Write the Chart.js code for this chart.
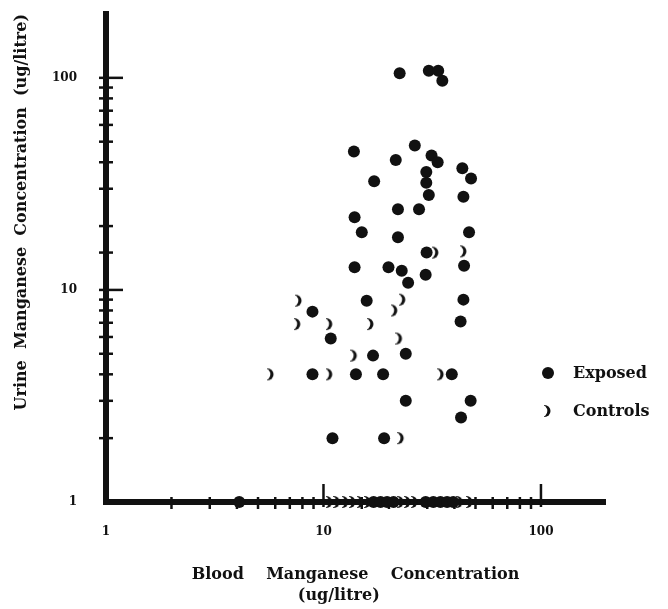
<!DOCTYPE html>
<html>
<head>
<meta charset="utf-8">
<script src="https://cdn.jsdelivr.net/npm/chart.js@4.4.1/dist/chart.umd.min.js"></script>
<style>
  html, body { margin: 0; padding: 0; background: #fff; }
</style>
</head>
<body>
<canvas id="chart" width="668" height="609"></canvas>
<script>
// Valores (ug/litre), escalas logaritmicas
const exposedBlood = [22.4, 30.5, 33.7, 35.2, 13.8, 26.3, 21.5, 31.4, 33.5, 43.5, 29.7, 47.7, 17.1, 29.7, 30.5,
  44, 22, 27.5, 13.9, 15, 22, 46.7, 29.8, 44.3, 13.9, 19.9, 22.9, 24.5, 29.5, 44, 15.8, 8.9, 42.7, 10.8, 16.9,
  23.9, 8.9, 14.1, 18.8, 38.9, 23.9, 47.5, 42.9, 11, 19,
  4.1, 17, 18.3, 19.6, 21, 29.5, 32, 34.5, 37, 39.5];
const exposedUrine = [105, 108, 108, 97, 45, 48, 41, 43, 40, 37.5, 36, 33.5, 32.5, 32, 28,
  27.5, 24, 24, 22, 18.7, 17.7, 18.7, 15, 13, 12.8, 12.8, 12.3, 10.8, 11.8, 9, 8.9, 7.9, 7.1, 5.9, 4.9,
  5, 4, 4, 4, 4, 3, 3, 2.5, 2, 2,
  1, 1, 1, 1, 1, 1, 1, 1, 1, 1];
const controlsBlood = [33.2, 44.7, 7.8, 23.4, 21.5, 7.7, 10.8, 16.7, 22.6, 14, 5.8, 10.8, 35.1, 23,
  10.8, 11.7, 12.8, 13.8, 15, 16.2, 23, 24.7, 26.6, 43, 47.7];
const controlsUrine = [15, 15.2, 8.9, 9, 8, 6.9, 6.9, 6.9, 5.9, 4.9, 4, 4, 4, 2,
  1, 1, 1, 1, 1, 1, 1, 1, 1, 1, 1];
const seriesNames = ['Exposed', 'Controls'];
const tickLabels = [1, 10, 100];

const tinta = '#111';
const fuente = 'DejaVu Serif';

function esMayor(v) {
  const r = Math.round(v);
  return Math.abs(v - r) < 1e-6 && tickLabels.includes(r);
}

// Marcador ")" de los controles
function crearMedialuna() {
  const c = document.createElement('canvas');
  c.width = 10;
  c.height = 14;
  const g = c.getContext('2d');
  g.fillStyle = tinta;
  g.beginPath();
  g.arc(0.5, 7, 6, 0, Math.PI * 2);
  g.fill();
  g.globalCompositeOperation = 'destination-out';
  g.beginPath();
  g.arc(-3, 7, 6.3, 0, Math.PI * 2);
  g.fill();
  return c;
}
const medialuna = crearMedialuna();

// Marcas cruzadas sobre los ejes
const marcasPlugin = {
  id: 'marcas',
  beforeDatasetsDraw(chart) {
    const ctx = chart.ctx;
    const xs = chart.scales.x;
    const ys = chart.scales.y;
    const x0 = xs.left;
    const y0 = ys.bottom;
    ctx.save();
    ctx.strokeStyle = tinta;
    ctx.lineWidth = 2.5;
    ys.ticks.forEach(t => {
      if (t.value <= 1.0001 || t.value > 100.001) return;
      const py = ys.getPixelForValue(t.value);
      const mayor = esMayor(t.value);
      ctx.beginPath();
      ctx.moveTo(x0 - 7, py);
      ctx.lineTo(x0 + (mayor ? 17 : 7), py);
      ctx.stroke();
    });
    xs.ticks.forEach(t => {
      if (t.value <= 1.0001 || t.value > 100.001) return;
      const px = xs.getPixelForValue(t.value);
      const mayor = esMayor(t.value);
      ctx.beginPath();
      ctx.moveTo(px, y0 + (mayor ? 5 : 7));
      ctx.lineTo(px, y0 - (mayor ? 18 : 5));
      ctx.stroke();
    });
    ctx.restore();
  }
};

// Leyenda dentro del area del grafico
const leyendaPlugin = {
  id: 'leyenda',
  afterDraw(chart) {
    const ctx = chart.ctx;
    ctx.save();
    ctx.fillStyle = tinta;
    ctx.beginPath();
    ctx.arc(548, 373, 6, 0, Math.PI * 2);
    ctx.fill();
    ctx.drawImage(medialuna, 549 - 5, 411 - 7);
    ctx.font = 'bold 16px "' + fuente + '"';
    ctx.textAlign = 'left';
    ctx.textBaseline = 'middle';
    ctx.fillText(seriesNames[0], 573, 374);
    ctx.fillText(seriesNames[1], 573, 412);
    ctx.restore();
  }
};

new Chart(document.getElementById('chart'), {
  type: 'scatter',
  data: {
    datasets: [
      {
        label: seriesNames[0],
        data: exposedBlood.map((b, i) => ({ x: b, y: exposedUrine[i] })),
        pointStyle: 'circle',
        pointRadius: 6,
        backgroundColor: tinta,
        borderColor: tinta,
        borderWidth: 0,
        clip: false
      },
      {
        label: seriesNames[1],
        data: controlsBlood.map((b, i) => ({ x: b, y: controlsUrine[i] })),
        pointStyle: medialuna,
        clip: false
      }
    ]
  },
  options: {
    responsive: false,
    animation: false,
    layout: { padding: { top: 14, right: 63, left: 0, bottom: 0 } },
    plugins: {
      legend: { display: false },
      tooltip: { enabled: false }
    },
    scales: {
      x: {
        type: 'logarithmic',
        min: 1,
        max: 197,
        afterFit: s => { s.height = 107; s.paddingLeft = 0; s.paddingRight = 0; },
        grid: { display: false, drawTicks: false },
        border: { display: true, width: 6, color: tinta },
        ticks: {
          autoSkip: false,
          maxRotation: 0,
          padding: 23,
          color: tinta,
          font: { family: fuente, size: 12, weight: 'bold' },
          callback: v => esMayor(v) ? String(Math.round(v)) : ''
        },
        title: {
          display: true,
          text: ['Blood\u00a0\u00a0\u00a0\u00a0Manganese\u00a0\u00a0\u00a0\u00a0Concentration', '(ug/litre)\u00a0\u00a0\u00a0\u00a0\u00a0\u00a0'],
          color: tinta,
          font: { family: fuente, size: 16, weight: 'bold', lineHeight: 1.3 },
          padding: { top: 0, bottom: 3 }
        }
      },
      y: {
        type: 'logarithmic',
        min: 1,
        max: 200,
        afterFit: s => { s.width = 106; s.paddingTop = 0; s.paddingBottom = 0; },
        grid: { display: false, drawTicks: false },
        border: { display: true, width: 6, color: tinta },
        ticks: {
          autoSkip: false,
          padding: 29,
          color: tinta,
          font: { family: fuente, size: 12, weight: 'bold' },
          callback: v => esMayor(v) ? String(Math.round(v)) : ''
        },
        title: {
          display: true,
          align: 'end',
          text: 'Urine\u00a0\u00a0Manganese\u00a0\u00a0Concentration\u00a0\u00a0(ug/litre)',
          color: tinta,
          font: { family: fuente, size: 16, weight: 'bold', lineHeight: 1.2 },
          padding: { top: 12, bottom: 0 }
        }
      }
    }
  },
  plugins: [marcasPlugin, leyendaPlugin]
});
</script>
</body>
</html>
